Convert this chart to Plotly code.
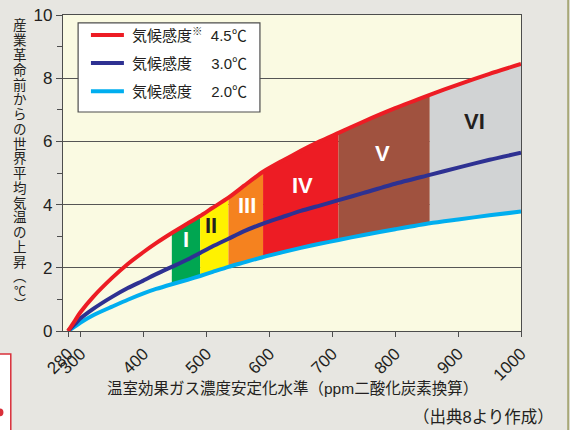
import plotly.graph_objects as go

# ---- data ----
ppm = [280, 290, 300, 320, 350, 375, 400, 420, 445, 470, 490, 510, 535, 560, 590,
       620, 650, 680, 710, 750, 800, 855, 900, 950, 1000]
sens_45 = [0.0, 0.3, 0.6, 1.08, 1.68, 2.12, 2.5, 2.78, 3.1, 3.4, 3.64, 3.9, 4.22, 4.6, 5.04,
           5.38, 5.7, 6.0, 6.27, 6.63, 7.05, 7.47, 7.8, 8.14, 8.45]
sens_30 = [0.0, 0.2, 0.4, 0.7, 1.08, 1.36, 1.6, 1.8, 2.03, 2.26, 2.47, 2.68, 2.92, 3.16, 3.4,
           3.6, 3.8, 3.97, 4.14, 4.37, 4.66, 4.94, 5.17, 5.42, 5.64]
sens_20 = [0.0, 0.13, 0.27, 0.5, 0.77, 0.99, 1.19, 1.33, 1.48, 1.62, 1.74, 1.87, 2.03, 2.17, 2.34,
           2.49, 2.63, 2.76, 2.88, 3.04, 3.22, 3.41, 3.53, 3.66, 3.78]
band_names = ["I", "II", "III", "IV", "V", "VI"]
band_edges = [445, 490, 535, 590, 710, 855, 1000]
band_colors = ["#00a651", "#fff200", "#f5821f", "#ed1c24", "#a0523f", "#d1d3d4"]
band_text_colors = ["white", "#231f20", "white", "white", "white", "#231f20"]
band_label_pos = [(467, 2.88), (508, 3.35), (564, 3.96), (653, 4.62), (780, 5.63), (926, 6.62)]
legend_names = ["気候感度<sup>※</sup>  4.5℃", "気候感度　 3.0℃", "気候感度　 2.0℃"]
line_colors = ["#ed1c24", "#2e3192", "#00aeef"]
x_ticks = [280, 300, 400, 500, 600, 700, 800, 900, 1000]
y_title = "産業革命前からの世界平均気温の上昇︵℃︶"
x_title = "温室効果ガス濃度安定化水準（ppm二酸化炭素換算）"
source = "（出典8より作成）"

FONT = "Liberation Sans, Noto Sans CJK JP, sans-serif"
fig = go.Figure()

# bands between 2.0 and 4.5 curves
for i, name in enumerate(band_names):
    a, b = band_edges[i], band_edges[i + 1]
    i0, i1 = ppm.index(a), ppm.index(b)
    xs = ppm[i0:i1 + 1] + ppm[i0:i1 + 1][::-1]
    ys = sens_45[i0:i1 + 1] + sens_20[i0:i1 + 1][::-1]
    fig.add_trace(go.Scatter(x=xs, y=ys, fill="toself", fillcolor=band_colors[i],
                             mode="none", showlegend=False, hoverinfo="skip"))
    lx, ly = band_label_pos[i]
    fig.add_annotation(x=lx, y=ly, text="<b>%s</b>" % name, showarrow=False,
                       font=dict(size=22, color=band_text_colors[i], family="Liberation Sans, Arial"))

for ys, c in zip([sens_20, sens_30, sens_45], line_colors[::-1]):
    fig.add_trace(go.Scatter(x=ppm, y=ys, mode="lines",
                             line=dict(color=c, width=4, shape="spline", smoothing=0.6),
                             showlegend=False, hoverinfo="skip"))

# manual legend
fig.add_shape(type="rect", xref="paper", yref="paper", x0=0.033, x1=0.43, y0=0.693, y1=0.975,
              fillcolor="white", line=dict(color="#4d4d4d", width=1.2))
for k, (nm, c) in enumerate(zip(legend_names, line_colors)):
    yy = 0.937 - k * 0.089
    fig.add_shape(type="line", xref="paper", yref="paper", x0=0.061, x1=0.133, y0=yy, y1=yy,
                  line=dict(color=c, width=4))
    fig.add_annotation(xref="paper", yref="paper", x=0.147, y=yy, text=nm, showarrow=False,
                       xanchor="left", yanchor="middle",
                       font=dict(size=15, color="#231f20", family=FONT))

# page decorations
fig.add_shape(type="line", xref="paper", yref="paper", x0=1.103, x1=1.103, y0=-0.32, y1=1.05,
              line=dict(color="#a8a878", width=2))
fig.add_shape(type="rect", xref="paper", yref="paper", x0=-0.14, x1=-0.114, y0=-0.33, y1=-0.073,
              fillcolor="white", line=dict(color="#d9303a", width=1.5))
fig.add_shape(type="circle", xref="paper", yref="paper", x0=-0.145, x1=-0.13, y0=-0.27, y1=-0.245,
              fillcolor="#d9303a", line=dict(width=0))

# vertical y-axis title, one character per annotation
for k, ch in enumerate(y_title):
    if k < 18:
        py = 26 + 14.76 * k
        fs = 13.5
    else:
        py = 292 + 12.5 * (k - 18)
        fs = 12
    fig.add_annotation(xref="paper", yref="paper", x=-0.094, y=(331 - py) / 316,
                       text=ch, showarrow=False, xanchor="center", yanchor="middle",
                       font=dict(size=fs, color="#231f20", family=FONT))

fig.add_annotation(xref="paper", yref="paper", x=0.5, y=-0.180, text=x_title, showarrow=False,
                   yanchor="middle", font=dict(size=15.5, color="#231f20", family=FONT))
fig.add_annotation(xref="paper", yref="paper", x=1.076, y=-0.272, text=source, showarrow=False,
                   xanchor="right", yanchor="middle", font=dict(size=16.5, color="#231f20", family=FONT))

fig.update_layout(
    width=570, height=430,
    margin=dict(l=63, r=49, t=15, b=99),
    paper_bgcolor="#e7e6e1", plot_bgcolor="#fafae2",
    font=dict(family=FONT, color="#231f20"),
    showlegend=False,
)
fig.update_xaxes(range=[272, 1000], tickvals=x_ticks, ticktext=[str(v) for v in x_ticks],
                 tickangle=-45, ticks="outside", ticklen=5, tickcolor="#4d4d4d", automargin=False,
                 showline=True, linecolor="#4d4d4d", linewidth=1.2, mirror=True,
                 showgrid=False, zeroline=False, tickfont=dict(size=17, color="#231f20"))
fig.update_yaxes(range=[0, 10], tickvals=[0, 2, 4, 6, 8, 10], ticks="outside", ticklen=6,
                 automargin=False, tickcolor="#4d4d4d", showline=True, linecolor="#4d4d4d",
                 linewidth=1.2, mirror=True,
                 showgrid=True, gridcolor="#555555", gridwidth=1, zeroline=False,
                 minor=dict(tickvals=[1, 3, 5, 7, 9], ticks="outside", ticklen=5,
                            tickcolor="#4d4d4d", showgrid=False),
                 tickfont=dict(size=17, color="#231f20"))

fig.write_html("out.html", config={"displayModeBar": False},
               post_script="document.body.style.margin='0';document.body.style.overflow='hidden';")
